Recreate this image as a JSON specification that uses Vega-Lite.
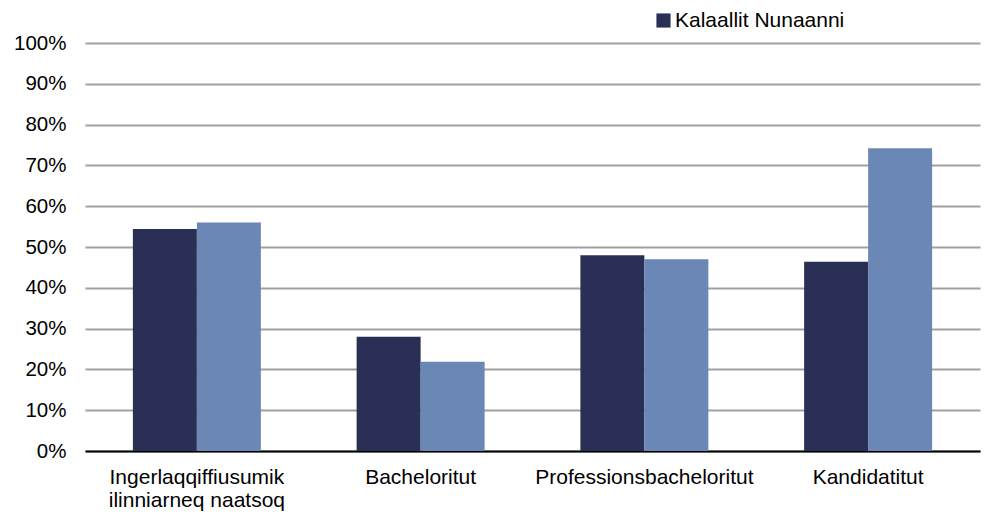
{
  "$schema": "https://vega.github.io/schema/vega-lite/v6.json",
  "width": 895,
  "height": 408,
  "autosize": "none",
  "padding": {"left": 85, "top": 43, "right": 6, "bottom": 63},
  "background": "white",
  "config": {
    "view": {"stroke": null},
    "font": "Liberation Sans"
  },
  "data": {
    "values": [
      {"kategori": "Ingerlaqqiffiusumik ilinniarneq naatsoq", "serie": "Kalaallit Nunaanni", "andel": 0.544},
      {"kategori": "Ingerlaqqiffiusumik ilinniarneq naatsoq", "serie": "Danmarkimi", "andel": 0.560},
      {"kategori": "Bacheloritut", "serie": "Kalaallit Nunaanni", "andel": 0.280},
      {"kategori": "Bacheloritut", "serie": "Danmarkimi", "andel": 0.219},
      {"kategori": "Professionsbacheloritut", "serie": "Kalaallit Nunaanni", "andel": 0.480},
      {"kategori": "Professionsbacheloritut", "serie": "Danmarkimi", "andel": 0.470},
      {"kategori": "Kandidatitut", "serie": "Kalaallit Nunaanni", "andel": 0.464},
      {"kategori": "Kandidatitut", "serie": "Danmarkimi", "andel": 0.742}
    ]
  },
  "mark": {"type": "bar"},
  "encoding": {
    "x": {
      "field": "kategori",
      "type": "nominal",
      "sort": null,
      "title": null,
      "scale": {"paddingInner": 0.428, "paddingOuter": 0.214},
      "axis": {
        "labelAngle": 0,
        "labelFontSize": 21,
        "labelColor": "#000000",
        "labelPadding": 15,
        "labelLimit": 0,
        "labelLineHeight": 23,
        "labelExpr": "datum.label == 'Ingerlaqqiffiusumik ilinniarneq naatsoq' ? ['Ingerlaqqiffiusumik', 'ilinniarneq naatsoq'] : datum.label",
        "ticks": false,
        "domainColor": "#000000",
        "domainWidth": 2,
        "grid": false
      }
    },
    "xOffset": {"field": "serie", "type": "nominal", "sort": ["Kalaallit Nunaanni", "Danmarkimi"]},
    "y": {
      "field": "andel",
      "type": "quantitative",
      "title": null,
      "scale": {"domain": [0, 1], "nice": false},
      "axis": {
        "values": [0, 0.1, 0.2, 0.3, 0.4, 0.5, 0.6, 0.7, 0.8, 0.9, 1],
        "format": ".0%",
        "labelFontSize": 20.5,
        "labelColor": "#000000",
        "labelPadding": 19,
        "ticks": false,
        "domain": false,
        "gridColor": "#a0a0a0",
        "gridWidth": 2
      }
    },
    "color": {
      "field": "serie",
      "type": "nominal",
      "sort": ["Kalaallit Nunaanni", "Danmarkimi"],
      "scale": {"domain": ["Kalaallit Nunaanni", "Danmarkimi"], "range": ["#2a2f55", "#6b87b5"]},
      "legend": {
        "values": ["Kalaallit Nunaanni"],
        "title": null,
        "orient": "none",
        "legendX": 568,
        "legendY": -33,
        "padding": 0,
        "symbolType": "square",
        "symbolSize": 200,
        "symbolStrokeWidth": 0,
        "labelFontSize": 21,
        "labelLimit": 0,
        "labelColor": "#000000",
        "labelOffset": 1
      }
    }
  }
}
